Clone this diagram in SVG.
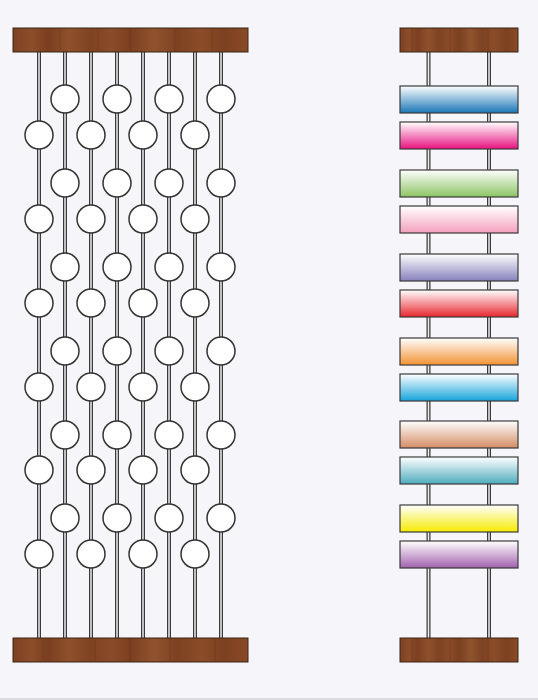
<svg xmlns="http://www.w3.org/2000/svg" width="538" height="700" viewBox="0 0 538 700">
<defs>
<style>
.rodo{stroke:#3a3a3a;stroke-width:4;fill:none}
.rodi{stroke:#eeeeee;stroke-width:1.5;fill:none}
.bead{fill:#ffffff;stroke:#333333;stroke-width:1.5}
.bar{stroke:#3b2414;stroke-width:1}
.sw{stroke:#3a3a3a;stroke-width:1.2}
.grain{stroke:#5e2f14;stroke-width:0.8;opacity:0.45}
</style>
<linearGradient id="wood" x1="0" y1="0" x2="1" y2="0">
<stop offset="0" stop-color="#7d4122"/>
<stop offset="0.08" stop-color="#8c4d2a"/>
<stop offset="0.15" stop-color="#7a3f20"/>
<stop offset="0.24" stop-color="#8f512c"/>
<stop offset="0.33" stop-color="#7e4322"/>
<stop offset="0.42" stop-color="#8a4b28"/>
<stop offset="0.5" stop-color="#7b4021"/>
<stop offset="0.6" stop-color="#90532e"/>
<stop offset="0.7" stop-color="#7d4222"/>
<stop offset="0.8" stop-color="#8b4c29"/>
<stop offset="0.9" stop-color="#7c4121"/>
<stop offset="1" stop-color="#8a4a28"/>
</linearGradient>
<linearGradient id="g1" x1="0" y1="0" x2="0" y2="1"><stop offset="0" stop-color="#ffffff"/><stop offset="1" stop-color="#1a77b8"/></linearGradient>
<linearGradient id="g2" x1="0" y1="0" x2="0" y2="1"><stop offset="0" stop-color="#ffffff"/><stop offset="1" stop-color="#e8127f"/></linearGradient>
<linearGradient id="g3" x1="0" y1="0" x2="0" y2="1"><stop offset="0" stop-color="#ffffff"/><stop offset="1" stop-color="#8cc462"/></linearGradient>
<linearGradient id="g4" x1="0" y1="0" x2="0" y2="1"><stop offset="0" stop-color="#ffffff"/><stop offset="1" stop-color="#f3a0bd"/></linearGradient>
<linearGradient id="g5" x1="0" y1="0" x2="0" y2="1"><stop offset="0" stop-color="#ffffff"/><stop offset="1" stop-color="#8580bc"/></linearGradient>
<linearGradient id="g6" x1="0" y1="0" x2="0" y2="1"><stop offset="0" stop-color="#ffffff"/><stop offset="1" stop-color="#e8262e"/></linearGradient>
<linearGradient id="g7" x1="0" y1="0" x2="0" y2="1"><stop offset="0" stop-color="#ffffff"/><stop offset="1" stop-color="#f29232"/></linearGradient>
<linearGradient id="g8" x1="0" y1="0" x2="0" y2="1"><stop offset="0" stop-color="#ffffff"/><stop offset="1" stop-color="#16a3db"/></linearGradient>
<linearGradient id="g9" x1="0" y1="0" x2="0" y2="1"><stop offset="0" stop-color="#ffffff"/><stop offset="1" stop-color="#d38c64"/></linearGradient>
<linearGradient id="g10" x1="0" y1="0" x2="0" y2="1"><stop offset="0" stop-color="#ffffff"/><stop offset="1" stop-color="#4eacbe"/></linearGradient>
<linearGradient id="g11" x1="0" y1="0" x2="0" y2="1"><stop offset="0" stop-color="#ffffff"/><stop offset="1" stop-color="#f6eb00"/></linearGradient>
<linearGradient id="g12" x1="0" y1="0" x2="0" y2="1"><stop offset="0" stop-color="#ffffff"/><stop offset="1" stop-color="#a262ae"/></linearGradient>
</defs>
<rect x="0" y="0" width="538" height="700" fill="#f6f6fa"/>
<rect x="0" y="698" width="538" height="2" fill="#dcdce0"/>

<g id="connectors">
<g class="rodo">
<line x1="39" y1="52" x2="39" y2="638"/><line x1="65" y1="52" x2="65" y2="638"/>
<line x1="91" y1="52" x2="91" y2="638"/><line x1="117" y1="52" x2="117" y2="638"/>
<line x1="143" y1="52" x2="143" y2="638"/><line x1="169" y1="52" x2="169" y2="638"/>
<line x1="195" y1="52" x2="195" y2="638"/><line x1="221" y1="52" x2="221" y2="638"/>
<line x1="428.5" y1="52" x2="428.5" y2="638"/><line x1="489" y1="52" x2="489" y2="638"/>
</g>
<g class="rodi">
<line x1="39" y1="52" x2="39" y2="638"/><line x1="65" y1="52" x2="65" y2="638"/>
<line x1="91" y1="52" x2="91" y2="638"/><line x1="117" y1="52" x2="117" y2="638"/>
<line x1="143" y1="52" x2="143" y2="638"/><line x1="169" y1="52" x2="169" y2="638"/>
<line x1="195" y1="52" x2="195" y2="638"/><line x1="221" y1="52" x2="221" y2="638"/>
<line x1="428.5" y1="52" x2="428.5" y2="638"/><line x1="489" y1="52" x2="489" y2="638"/>
</g>
</g>

<g id="bar-left-top"><rect class="bar" x="13" y="28" width="235" height="24" fill="url(#wood)"/>
<g class="grain"><line x1="60" y1="29" x2="60" y2="51"/><line x1="98" y1="29" x2="98" y2="51"/><line x1="130" y1="29" x2="130" y2="51"/><line x1="175" y1="29" x2="175" y2="51"/><line x1="212" y1="29" x2="212" y2="51"/></g></g>
<g id="bar-left-bottom"><rect class="bar" x="13" y="638" width="235" height="24" fill="url(#wood)"/>
<g class="grain"><line x1="43" y1="639" x2="43" y2="661"/><line x1="95" y1="639" x2="95" y2="661"/><line x1="130" y1="639" x2="130" y2="661"/><line x1="170" y1="639" x2="170" y2="661"/><line x1="215" y1="639" x2="215" y2="661"/></g></g>
<g id="bar-right-top"><rect class="bar" x="400" y="28" width="118" height="24" fill="url(#wood)"/>
<g class="grain"><line x1="412" y1="29" x2="412" y2="51"/><line x1="450" y1="29" x2="450" y2="51"/><line x1="488" y1="29" x2="488" y2="51"/></g></g>
<g id="bar-right-bottom"><rect class="bar" x="400" y="638" width="118" height="24" fill="url(#wood)"/>
<g class="grain"><line x1="412" y1="639" x2="412" y2="661"/><line x1="450" y1="639" x2="450" y2="661"/><line x1="488" y1="639" x2="488" y2="661"/></g></g>

<g id="beads-upper" class="bead">
<circle cx="65" cy="99" r="14"/><circle cx="117" cy="99" r="14"/><circle cx="169" cy="99" r="14"/><circle cx="221" cy="99" r="14"/>
<circle cx="65" cy="183" r="14"/><circle cx="117" cy="183" r="14"/><circle cx="169" cy="183" r="14"/><circle cx="221" cy="183" r="14"/>
<circle cx="65" cy="267" r="14"/><circle cx="117" cy="267" r="14"/><circle cx="169" cy="267" r="14"/><circle cx="221" cy="267" r="14"/>
<circle cx="65" cy="351" r="14"/><circle cx="117" cy="351" r="14"/><circle cx="169" cy="351" r="14"/><circle cx="221" cy="351" r="14"/>
<circle cx="65" cy="435" r="14"/><circle cx="117" cy="435" r="14"/><circle cx="169" cy="435" r="14"/><circle cx="221" cy="435" r="14"/>
<circle cx="65" cy="518" r="14"/><circle cx="117" cy="518" r="14"/><circle cx="169" cy="518" r="14"/><circle cx="221" cy="518" r="14"/>
</g>
<g id="beads-lower" class="bead">
<circle cx="39" cy="135" r="14"/><circle cx="91" cy="135" r="14"/><circle cx="143" cy="135" r="14"/><circle cx="195" cy="135" r="14"/>
<circle cx="39" cy="219" r="14"/><circle cx="91" cy="219" r="14"/><circle cx="143" cy="219" r="14"/><circle cx="195" cy="219" r="14"/>
<circle cx="39" cy="303" r="14"/><circle cx="91" cy="303" r="14"/><circle cx="143" cy="303" r="14"/><circle cx="195" cy="303" r="14"/>
<circle cx="39" cy="387" r="14"/><circle cx="91" cy="387" r="14"/><circle cx="143" cy="387" r="14"/><circle cx="195" cy="387" r="14"/>
<circle cx="39" cy="470" r="14"/><circle cx="91" cy="470" r="14"/><circle cx="143" cy="470" r="14"/><circle cx="195" cy="470" r="14"/>
<circle cx="39" cy="554" r="14"/><circle cx="91" cy="554" r="14"/><circle cx="143" cy="554" r="14"/><circle cx="195" cy="554" r="14"/>
</g>

<g id="swatch-1"><rect class="sw" x="400" y="86" width="118" height="27" fill="url(#g1)"/></g>
<g id="swatch-2"><rect class="sw" x="400" y="122" width="118" height="27" fill="url(#g2)"/></g>
<g id="swatch-3"><rect class="sw" x="400" y="170" width="118" height="27" fill="url(#g3)"/></g>
<g id="swatch-4"><rect class="sw" x="400" y="206" width="118" height="27" fill="url(#g4)"/></g>
<g id="swatch-5"><rect class="sw" x="400" y="254" width="118" height="27" fill="url(#g5)"/></g>
<g id="swatch-6"><rect class="sw" x="400" y="290" width="118" height="27" fill="url(#g6)"/></g>
<g id="swatch-7"><rect class="sw" x="400" y="338" width="118" height="27" fill="url(#g7)"/></g>
<g id="swatch-8"><rect class="sw" x="400" y="374" width="118" height="27" fill="url(#g8)"/></g>
<g id="swatch-9"><rect class="sw" x="400" y="421" width="118" height="27" fill="url(#g9)"/></g>
<g id="swatch-10"><rect class="sw" x="400" y="457" width="118" height="27" fill="url(#g10)"/></g>
<g id="swatch-11"><rect class="sw" x="400" y="505" width="118" height="27" fill="url(#g11)"/></g>
<g id="swatch-12"><rect class="sw" x="400" y="541" width="118" height="27" fill="url(#g12)"/></g>
</svg>
